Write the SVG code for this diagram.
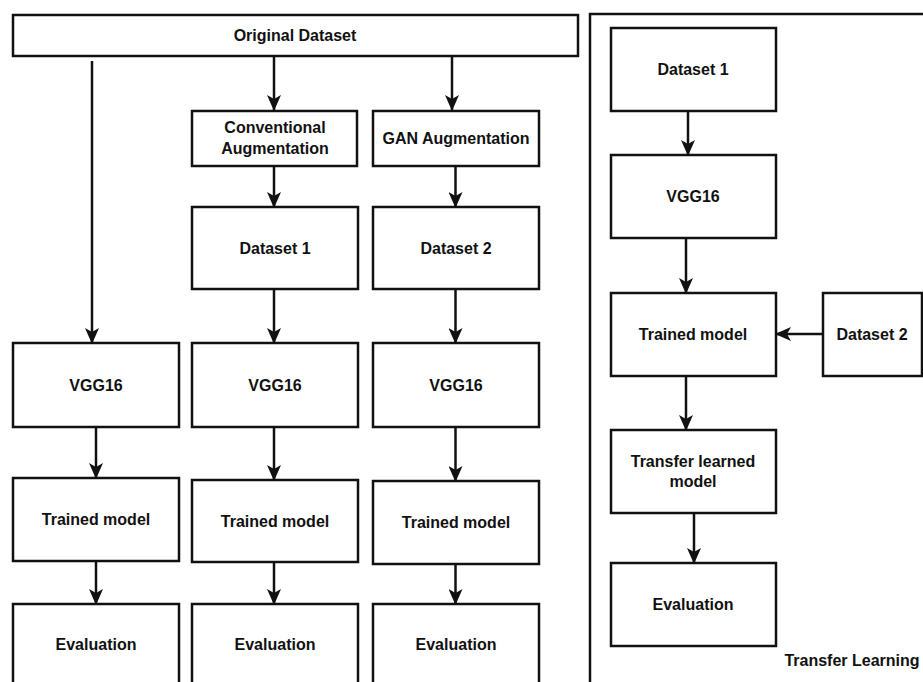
<svg xmlns="http://www.w3.org/2000/svg" width="923" height="682" viewBox="0 0 923 682">
<style>
.box{fill:#fff;stroke:#111;stroke-width:2.5}
.t{font-family:"Liberation Sans",Arial,Helvetica,sans-serif;font-size:16px;font-weight:bold;fill:#111;text-anchor:middle}
.c{fill:none;stroke:#111;stroke-width:2.5}
</style>
<defs>
<marker id="ah" markerUnits="userSpaceOnUse" viewBox="0 0 16 14" refX="15" refY="7" markerWidth="16" markerHeight="14" orient="auto">
<path d="M0,0 L16,7 L0,14 L4,7 Z" fill="#111"/>
</marker>
</defs>
<rect width="923" height="682" fill="#fff"/>

<g id="panel-transfer">
<path d="M590,690 V14 H930" fill="none" stroke="#111" stroke-width="2.5"/>
</g>

<g id="original"><rect class="box" x="13" y="15" width="565" height="41"/><text class="t" x="295" y="41">Original Dataset</text></g>
<g id="conv-aug"><rect class="box" x="192" y="111" width="165" height="55"/><text class="t" x="275" y="133">Conventional</text><text class="t" x="275" y="154">Augmentation</text></g>
<g id="gan-aug"><rect class="box" x="373" y="111" width="166" height="55"/><text class="t" x="456" y="144">GAN Augmentation</text></g>
<g id="dataset1"><rect class="box" x="192" y="207" width="166" height="82"/><text class="t" x="275" y="254">Dataset 1</text></g>
<g id="dataset2"><rect class="box" x="373" y="207" width="166" height="82"/><text class="t" x="456" y="254">Dataset 2</text></g>

<g id="vgg-a"><rect class="box" x="13" y="343" width="166" height="84"/><text class="t" x="96" y="391">VGG16</text></g>
<g id="vgg-b"><rect class="box" x="192" y="343" width="166" height="84"/><text class="t" x="275" y="391">VGG16</text></g>
<g id="vgg-c"><rect class="box" x="373" y="343" width="166" height="84"/><text class="t" x="456" y="391">VGG16</text></g>

<g id="trained-a"><rect class="box" x="13" y="478" width="166" height="83"/><text class="t" x="96" y="525">Trained model</text></g>
<g id="trained-b"><rect class="box" x="192" y="480" width="166" height="82"/><text class="t" x="275" y="527">Trained model</text></g>
<g id="trained-c"><rect class="box" x="373" y="481" width="166" height="83"/><text class="t" x="456" y="528">Trained model</text></g>

<g id="eval-a"><rect class="box" x="13" y="604" width="166" height="83"/><text class="t" x="96" y="650">Evaluation</text></g>
<g id="eval-b"><rect class="box" x="192" y="604" width="166" height="83"/><text class="t" x="275" y="650">Evaluation</text></g>
<g id="eval-c"><rect class="box" x="373" y="604" width="166" height="83"/><text class="t" x="456" y="650">Evaluation</text></g>

<g id="tl-dataset1"><rect class="box" x="611" y="28" width="165" height="83"/><text class="t" x="693" y="75">Dataset 1</text></g>
<g id="tl-vgg"><rect class="box" x="611" y="155" width="165" height="83"/><text class="t" x="693" y="202">VGG16</text></g>
<g id="tl-trained"><rect class="box" x="611" y="293" width="165" height="83"/><text class="t" x="693" y="340">Trained model</text></g>
<g id="tl-dataset2"><rect class="box" x="823" y="293" width="99" height="83"/><text class="t" x="872" y="340">Dataset 2</text></g>
<g id="tl-transfer"><rect class="box" x="611" y="430" width="165" height="83"/><text class="t" x="693" y="467">Transfer learned</text><text class="t" x="693" y="487">model</text></g>
<g id="tl-eval"><rect class="box" x="611" y="563" width="165" height="83"/><text class="t" x="693" y="610">Evaluation</text></g>
<g id="label-transfer"><text class="t" x="852" y="666">Transfer Learning</text></g>

<g id="connectors">
<path class="c" d="M92,61 V343" marker-end="url(#ah)"/>
<path class="c" d="M274,56 V110" marker-end="url(#ah)"/>
<path class="c" d="M452,56 V110" marker-end="url(#ah)"/>
<path class="c" d="M274,166 V207" marker-end="url(#ah)"/>
<path class="c" d="M455.5,166 V207" marker-end="url(#ah)"/>
<path class="c" d="M274,289 V343" marker-end="url(#ah)"/>
<path class="c" d="M455.5,289 V343" marker-end="url(#ah)"/>
<path class="c" d="M96,427 V478" marker-end="url(#ah)"/>
<path class="c" d="M274,427 V480" marker-end="url(#ah)"/>
<path class="c" d="M455.5,427 V481" marker-end="url(#ah)"/>
<path class="c" d="M96,561 V604" marker-end="url(#ah)"/>
<path class="c" d="M274,562 V604" marker-end="url(#ah)"/>
<path class="c" d="M455.5,564 V604" marker-end="url(#ah)"/>
<path class="c" d="M688,111 V155" marker-end="url(#ah)"/>
<path class="c" d="M686,238 V293" marker-end="url(#ah)"/>
<path class="c" d="M823,334 H776" marker-end="url(#ah)"/>
<path class="c" d="M686,376 V430" marker-end="url(#ah)"/>
<path class="c" d="M694,513 V563" marker-end="url(#ah)"/>
</g>
</svg>
